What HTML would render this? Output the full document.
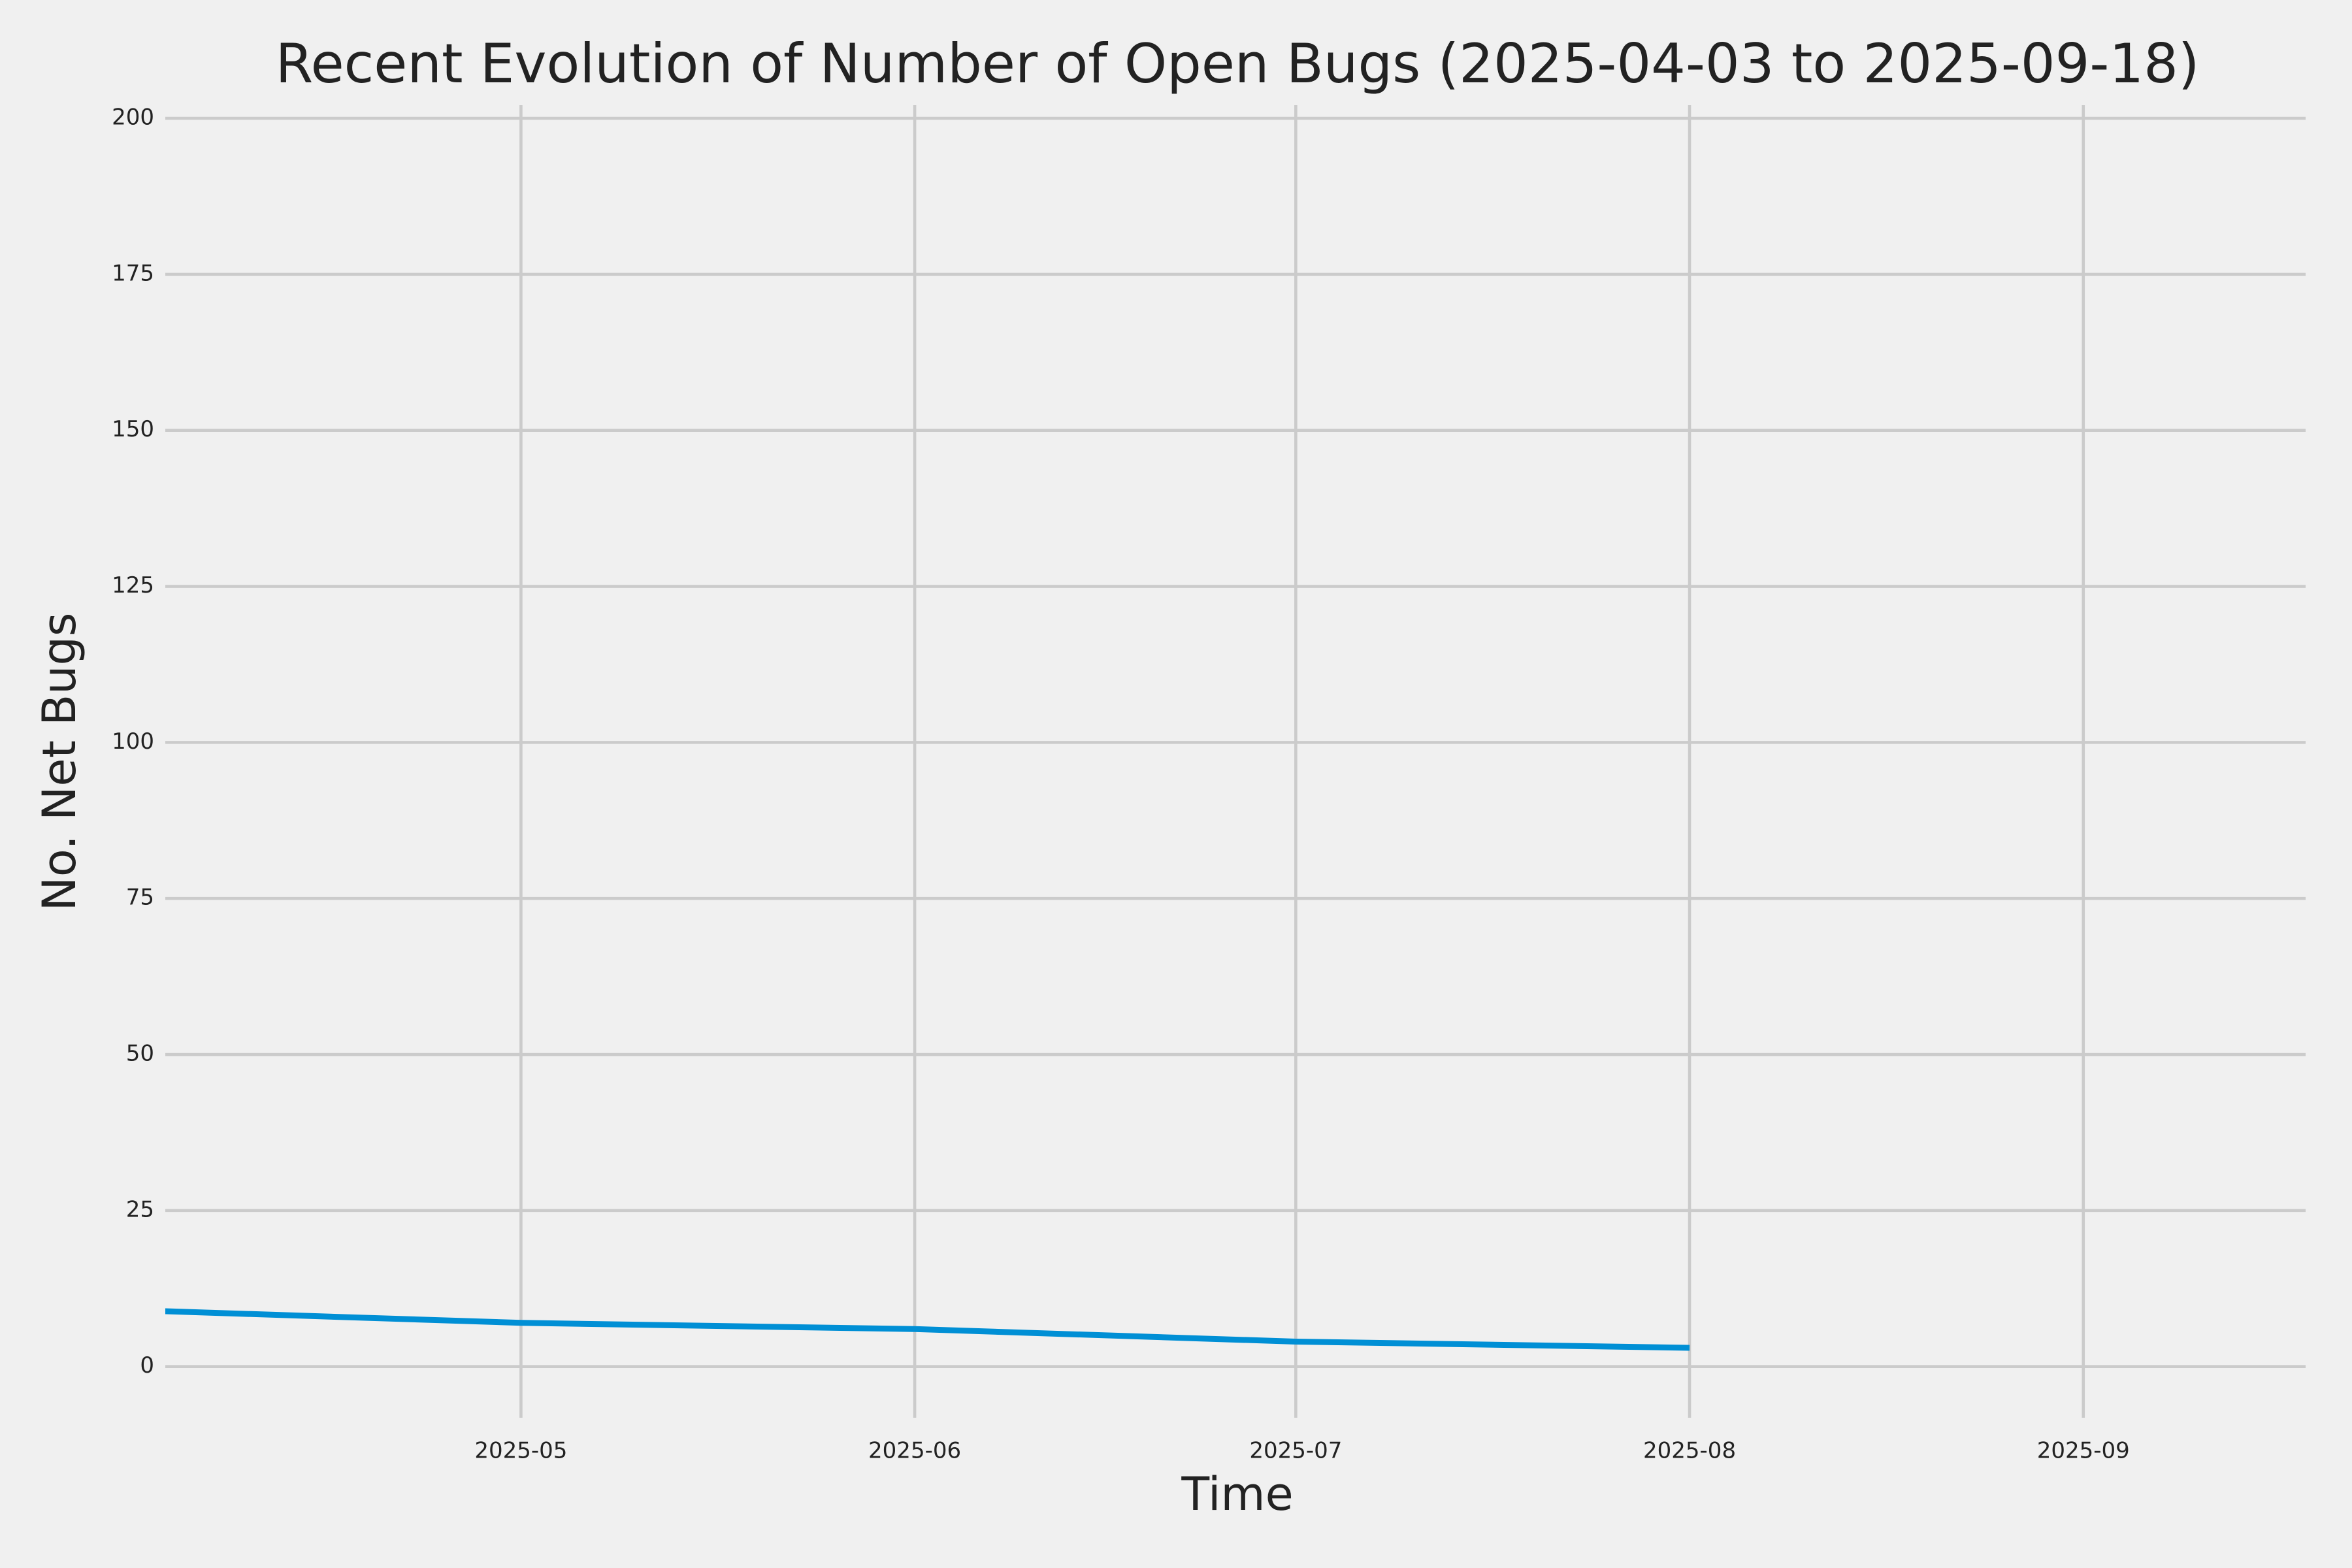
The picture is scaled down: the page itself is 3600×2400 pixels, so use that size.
<!DOCTYPE html>
<html><head><meta charset="utf-8"><style>
html,body{margin:0;padding:0;background:#f0f0f0;}
svg{display:block;font-family:"DejaVu Sans","Liberation Sans",sans-serif;}
</style></head><body>
<svg id="chart" width="3600" height="2400" viewBox="0 0 3600 2400" xmlns="http://www.w3.org/2000/svg">
<rect width="3600" height="2400" fill="#f0f0f0"/>
<text x="1894" y="103" font-size="83" fill="#222" text-anchor="middle" dominant-baseline="middle">Recent Evolution of Number of Open Bugs (2025-04-03 to 2025-09-18)</text>
<g id="grid"></g>
<g id="ticks"></g>
<g id="series"></g>
<text x="1894" y="2292" font-size="70" fill="#222" text-anchor="middle" dominant-baseline="middle">Time</text>
<text x="96" y="1166" font-size="70" fill="#222" text-anchor="middle" dominant-baseline="middle" transform="rotate(-90 96 1166)">No. Net Bugs</text>
</svg>
<script>
const dates = ["2025-04-01","2025-05-01","2025-06-01","2025-07-01","2025-08-01"];
const values = [9, 7, 6, 4, 3];
const yTicks = [0,25,50,75,100,125,150,175,200];
const xTickLabels = ["2025-05","2025-06","2025-07","2025-08","2025-09"];

const NS="http://www.w3.org/2000/svg";
const plotLeft=253,plotRight=3529,plotTop=161,plotBottom=2170;
const xMin=Date.UTC(2025,3,3),xMax=Date.UTC(2025,8,18,12);
const yMin=-8.2,yMax=202.1;
function xs(d){const t=Date.parse(d+"T00:00:00Z");return plotLeft+(t-xMin)/(xMax-xMin)*(plotRight-plotLeft);}
function ys(v){return plotBottom-(v-yMin)/(yMax-yMin)*(plotBottom-plotTop);}
function mk(tag,attrs,parent){const e=document.createElementNS(NS,tag);for(const k in attrs)e.setAttribute(k,attrs[k]);parent.appendChild(e);return e;}
const gridG=document.getElementById('grid'),ticksG=document.getElementById('ticks'),seriesG=document.getElementById('series');
yTicks.forEach(v=>{
  const y=ys(v);
  const l=mk('line',{x1:plotLeft,x2:plotRight,y1:y,y2:y,stroke:'#cbcbcb','stroke-width':4.6},gridG);
  
  
  const t=mk('text',{x:236,y:y,'font-size':34,fill:'#222','text-anchor':'end','dominant-baseline':'middle'},ticksG);
  t.textContent=v;
  
  
});
xTickLabels.forEach(s=>{
  const x=xs(s+"-01");
  const l=mk('line',{x1:x,x2:x,y1:plotTop,y2:plotBottom,stroke:'#cbcbcb','stroke-width':4.6},gridG);
  
  
  const t=mk('text',{x:x,y:2222,'font-size':34,fill:'#222','text-anchor':'middle','dominant-baseline':'middle'},ticksG);
  t.textContent=s;
  
  
});
const clip=mk('clipPath',{id:'pc'},seriesG);
mk('rect',{x:plotLeft,y:plotTop,width:plotRight-plotLeft,height:plotBottom-plotTop},clip);
const pts=dates.map((d,i)=>xs(d).toFixed(1)+","+ys(values[i]).toFixed(1)).join(" ");
const pl=mk('polyline',{points:pts,fill:'none',stroke:'#008fd5','stroke-width':9,'stroke-linejoin':'round','clip-path':'url(#pc)'},seriesG);


</script>
</body></html>
